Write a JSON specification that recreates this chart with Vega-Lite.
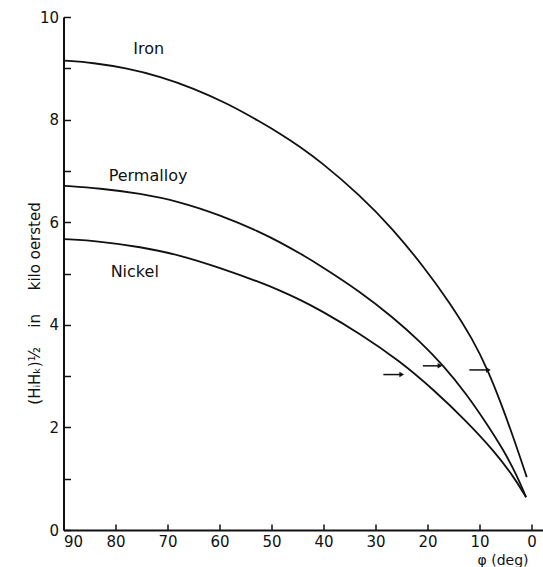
{
  "$schema": "https://vega.github.io/schema/vega-lite/v6.json",
  "autosize": "none",
  "width": 479.5,
  "height": 513,
  "padding": {"left": 63.5, "top": 17, "right": 0, "bottom": 37},
  "background": "white",
  "config": {
    "view": {"stroke": null},
    "font": "DejaVu Sans"
  },
  "datasets": {
    "curves": [
      {"s": "Iron", "phi": 90, "h": 9.15},
      {"s": "Iron", "phi": 84.3, "h": 9.11},
      {"s": "Iron", "phi": 77.8, "h": 9.0},
      {"s": "Iron", "phi": 71.4, "h": 8.84},
      {"s": "Iron", "phi": 65.0, "h": 8.61},
      {"s": "Iron", "phi": 58.6, "h": 8.32},
      {"s": "Iron", "phi": 52.2, "h": 7.96},
      {"s": "Iron", "phi": 48.4, "h": 7.73},
      {"s": "Iron", "phi": 44.5, "h": 7.47},
      {"s": "Iron", "phi": 40.7, "h": 7.19},
      {"s": "Iron", "phi": 33.0, "h": 6.53},
      {"s": "Iron", "phi": 26.6, "h": 5.86},
      {"s": "Iron", "phi": 20.8, "h": 5.14},
      {"s": "Iron", "phi": 15.7, "h": 4.43},
      {"s": "Iron", "phi": 11.2, "h": 3.70},
      {"s": "Iron", "phi": 8.3, "h": 3.09},
      {"s": "Iron", "phi": 6.06, "h": 2.52},
      {"s": "Iron", "phi": 3.5, "h": 1.81},
      {"s": "Iron", "phi": 0.92, "h": 1.03},
      {"s": "Permalloy", "phi": 90, "h": 6.71},
      {"s": "Permalloy", "phi": 83.0, "h": 6.66},
      {"s": "Permalloy", "phi": 75.3, "h": 6.56},
      {"s": "Permalloy", "phi": 67.6, "h": 6.40},
      {"s": "Permalloy", "phi": 59.9, "h": 6.14},
      {"s": "Permalloy", "phi": 52.2, "h": 5.81},
      {"s": "Permalloy", "phi": 48.4, "h": 5.61},
      {"s": "Permalloy", "phi": 44.5, "h": 5.39},
      {"s": "Permalloy", "phi": 40.7, "h": 5.16},
      {"s": "Permalloy", "phi": 33.0, "h": 4.65},
      {"s": "Permalloy", "phi": 26.6, "h": 4.14},
      {"s": "Permalloy", "phi": 21.4, "h": 3.67},
      {"s": "Permalloy", "phi": 17.0, "h": 3.21},
      {"s": "Permalloy", "phi": 12.5, "h": 2.65},
      {"s": "Permalloy", "phi": 8.6, "h": 2.07},
      {"s": "Permalloy", "phi": 5.4, "h": 1.56},
      {"s": "Permalloy", "phi": 2.85, "h": 1.07},
      {"s": "Permalloy", "phi": 1.05, "h": 0.64},
      {"s": "Nickel", "phi": 90, "h": 5.67},
      {"s": "Nickel", "phi": 83.0, "h": 5.63},
      {"s": "Nickel", "phi": 75.3, "h": 5.52},
      {"s": "Nickel", "phi": 67.6, "h": 5.36},
      {"s": "Nickel", "phi": 59.9, "h": 5.11},
      {"s": "Nickel", "phi": 52.2, "h": 4.83},
      {"s": "Nickel", "phi": 48.4, "h": 4.67},
      {"s": "Nickel", "phi": 44.5, "h": 4.49},
      {"s": "Nickel", "phi": 40.7, "h": 4.29},
      {"s": "Nickel", "phi": 33.0, "h": 3.83},
      {"s": "Nickel", "phi": 25.3, "h": 3.29},
      {"s": "Nickel", "phi": 18.9, "h": 2.74},
      {"s": "Nickel", "phi": 12.5, "h": 2.12},
      {"s": "Nickel", "phi": 7.3, "h": 1.55},
      {"s": "Nickel", "phi": 3.5, "h": 1.05},
      {"s": "Nickel", "phi": 1.05, "h": 0.64}
    ],
    "labels": [
      {"s": "Iron", "phi": 73.6, "h": 9.38},
      {"s": "Permalloy", "phi": 73.75, "h": 6.9},
      {"s": "Nickel", "phi": 76.3, "h": 5.03}
    ],
    "arrows": [
      {"s": "Nickel", "from": 28.5, "to": 24.96, "h": 3.03},
      {"s": "Permalloy", "from": 20.9, "to": 17.6, "h": 3.2},
      {"s": "Iron", "from": 11.96, "to": 8.3, "h": 3.12}
    ]
  },
  "layer": [
    {
      "data": {"name": "curves"},
      "mark": {"type": "line", "interpolate": "basis", "color": "#111", "strokeWidth": 1.8},
      "encoding": {
        "x": {
          "field": "phi", "type": "quantitative",
          "scale": {"domain": [90, -2.2], "nice": false, "zero": false},
          "axis": {
            "values": [90, 80, 70, 60, 50, 40, 30, 20, 10, 0],
            "grid": false,
            "domainColor": "#111", "domainWidth": 2,
            "tickColor": "#111", "tickWidth": 1.5, "tickSize": -6,
            "labelPadding": 10, "labelFontSize": 15, "labelColor": "#111",
            "labelFont": "DejaVu Sans",
            "title": "φ (deg)",
            "titleFont": "DejaVu Sans", "titleFontSize": 14, "titleFontWeight": "normal",
            "titleColor": "#111",
            "titleAlign": "right", "titleAnchor": "end",
            "titleX": 464.5, "titleY": 34, "titleBaseline": "alphabetic"
          }
        },
        "y": {
          "field": "h", "type": "quantitative",
          "scale": {"domain": [0, 10], "nice": false},
          "axis": {
            "values": [0, 1, 2, 3, 4, 5, 6, 7, 8, 9, 10],
            "labelExpr": "datum.value % 2 == 0 ? datum.label : ''",
            "grid": false,
            "domainColor": "#111", "domainWidth": 2,
            "tickColor": "#111", "tickWidth": 1.5, "tickSize": -7,
            "labelPadding": 12, "labelFontSize": 15, "labelColor": "#111",
            "labelFont": "DejaVu Sans",
            "title": "(HᵢHₖ)½\u00a0\u00a0\u00a0\u00a0in\u00a0\u00a0\u00a0\u00a0\u00a0kilo oersted",
            "titleFont": "DejaVu Sans", "titleFontSize": 15, "titleFontWeight": "normal",
            "titleColor": "#111",
            "titleAngle": -90, "titleAlign": "center", "titleBaseline": "middle",
            "titleX": -29, "titleY": 286
          }
        },
        "detail": {"field": "s"}
      }
    },
    {
      "data": {"name": "labels"},
      "mark": {"type": "text", "font": "DejaVu Sans", "fontSize": 16, "color": "#111", "align": "center", "baseline": "middle"},
      "encoding": {
        "x": {"field": "phi", "type": "quantitative"},
        "y": {"field": "h", "type": "quantitative"},
        "text": {"field": "s"}
      }
    },
    {
      "data": {"name": "arrows"},
      "mark": {"type": "rule", "color": "#111", "strokeWidth": 1.5},
      "encoding": {
        "x": {"field": "from", "type": "quantitative"},
        "x2": {"field": "to"},
        "y": {"field": "h", "type": "quantitative"}
      }
    },
    {
      "data": {"name": "arrows"},
      "mark": {"type": "point", "shape": "triangle-right", "filled": true, "color": "#111", "size": 30, "opacity": 1},
      "encoding": {
        "x": {"field": "to", "type": "quantitative"},
        "y": {"field": "h", "type": "quantitative"}
      }
    }
  ]
}
